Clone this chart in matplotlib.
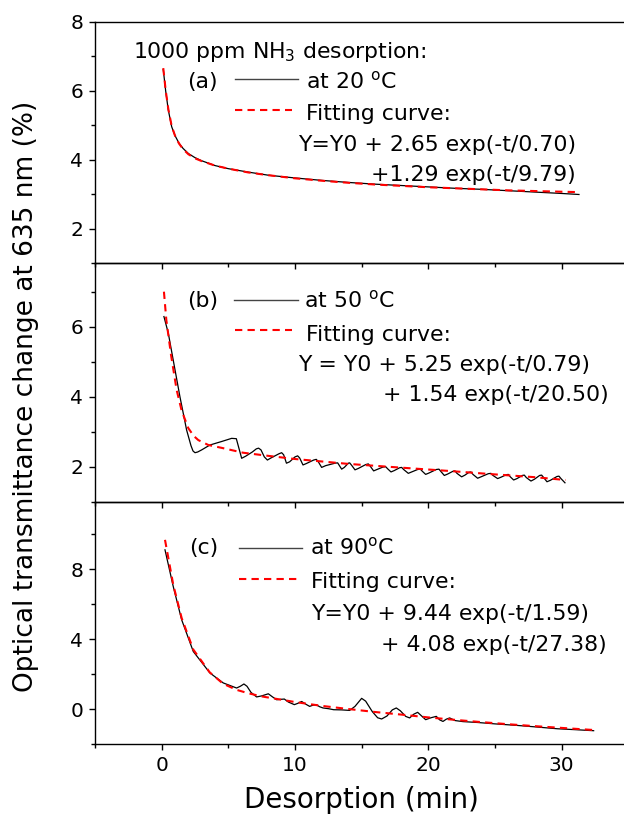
import matplotlib
matplotlib.use("Agg")
import matplotlib.pyplot as plt
from matplotlib.lines import Line2D
from matplotlib.ticker import MultipleLocator

plt.rcParams['font.family'] = ['DejaVu Sans']
plt.rcParams['mathtext.fontset'] = 'dejavusans'

# ---------------- data ----------------
# (a) 20 C
t_a = [0.12, 0.3, 0.5, 0.75, 1.0, 1.3, 1.6, 2.0, 2.5, 3.0, 4.0, 5.0, 6.5, 8.0, 10.0,
       12.0, 14.0, 16.0, 18.0, 20.0, 22.0, 24.0, 26.0, 28.0, 30.0, 31.3]
y_a = [6.62, 6.00, 5.44, 4.96, 4.70, 4.48, 4.33, 4.18, 4.06, 3.97, 3.83, 3.74, 3.64, 3.55, 3.47,
       3.40, 3.34, 3.29, 3.25, 3.21, 3.17, 3.14, 3.10, 3.06, 3.02, 2.99]
tf_a = [0.12, 0.3, 0.5, 0.75, 1.0, 1.3, 1.6, 2.0, 2.5, 3.0, 4.0, 5.0, 6.5, 8.0, 10.0,
        12.0, 14.0, 16.0, 18.0, 20.0, 22.0, 24.0, 26.0, 28.0, 30.0, 31.2]
yf_a = [6.66, 6.02, 5.47, 4.98, 4.70, 4.47, 4.31, 4.16, 4.04, 3.96, 3.83, 3.74, 3.63, 3.55, 3.46,
        3.39, 3.33, 3.28, 3.24, 3.20, 3.17, 3.14, 3.11, 3.09, 3.07, 3.06]

# (b) 50 C
t_b = [0.17, 0.5, 1.0, 1.37, 1.87, 2.2, 2.35, 2.5, 2.7, 3.0, 3.62, 4.5, 5.25, 5.6, 6.0,
       6.3, 6.8, 7.1, 7.27, 7.45, 7.7, 7.93, 8.2, 8.8, 9.0, 9.15, 9.36, 9.6, 10.0, 10.2,
       10.35, 10.6, 10.85, 11.4, 11.6, 11.75, 12.0, 12.3, 13.0, 13.2, 13.3, 13.5, 13.7,
       14.0, 14.1, 14.25, 14.5, 14.75, 15.3, 15.5, 15.65, 15.9, 16.15, 16.6, 16.8, 16.95,
       17.2, 17.45, 17.85, 18.0, 18.15, 18.5, 18.75, 19.2, 19.4, 19.55, 19.8, 20.05, 20.6,
       20.8, 20.95, 21.2, 21.45, 21.85, 22.0, 22.15, 22.5, 22.75, 23.05, 23.2, 23.35, 23.7,
       23.95, 24.5, 24.7, 24.85, 25.2, 25.45, 25.85, 26.0, 26.15, 26.4, 26.65, 27.05, 27.2,
       27.35, 27.7, 27.95, 28.35, 28.5, 28.65, 28.9, 29.15, 29.65, 29.8, 29.95, 30.25]
y_b = [6.29, 5.81, 4.77, 4.00, 3.05, 2.60, 2.45, 2.40, 2.42, 2.48, 2.62, 2.72, 2.81, 2.80, 2.24,
       2.30, 2.42, 2.51, 2.53, 2.48, 2.28, 2.19, 2.25, 2.37, 2.40, 2.34, 2.10, 2.14, 2.28, 2.31,
       2.25, 2.05, 2.09, 2.19, 2.21, 2.14, 1.98, 2.03, 2.10, 2.11, 2.05, 1.93, 1.98,
       2.10, 2.11, 2.04, 1.91, 1.95, 2.06, 2.08, 2.01, 1.88, 1.92, 1.99, 2.00, 1.94,
       1.85, 1.89, 1.97, 1.98, 1.92, 1.81, 1.85, 1.92, 1.93, 1.87, 1.78, 1.82, 1.92,
       1.93, 1.86, 1.75, 1.79, 1.87, 1.88, 1.81, 1.71, 1.76, 1.84, 1.85, 1.78, 1.67,
       1.71, 1.80, 1.81, 1.75, 1.66, 1.70, 1.77, 1.78, 1.71, 1.62, 1.66, 1.75, 1.76,
       1.69, 1.59, 1.64, 1.75, 1.76, 1.69, 1.57, 1.61, 1.72, 1.73, 1.66, 1.54]
tf_b = [0.17, 0.35, 0.7, 1.12, 1.5, 2.0, 2.4, 2.75, 3.5, 4.6, 6.1, 8.0, 10.0, 14.0, 17.7,
        21.5, 25.0, 28.0, 30.3]
yf_b = [7.00, 6.19, 5.20, 4.20, 3.60, 3.10, 2.88, 2.76, 2.62, 2.53, 2.40, 2.31, 2.22, 2.08,
        1.98, 1.88, 1.78, 1.70, 1.62]

# (c) 90 C
t_c = [0.25, 0.87, 1.5, 2.37, 3.62, 4.62, 5.62, 5.9, 6.17, 6.4, 6.7, 7.12, 7.5, 8.0, 8.3,
       8.62, 8.9, 9.2, 9.5, 9.95, 10.2, 10.5, 10.8, 11.1, 11.35, 11.6, 11.85, 12.1, 12.5,
       12.9, 13.5, 14.1, 14.5, 15.0, 15.3, 15.8, 16.2, 16.5, 16.9, 17.3, 17.6, 17.9, 18.3,
       18.6, 18.9, 19.2, 19.5, 19.8, 20.2, 20.6, 20.85, 21.1, 21.35, 21.6, 22.0, 22.6,
       23.7, 25.0, 26.7, 28.0, 29.7, 31.0, 32.4]
y_c = [9.10, 7.00, 5.10, 3.29, 2.06, 1.49, 1.20, 1.30, 1.43, 1.30, 0.95, 0.69, 0.75, 0.87, 0.70,
       0.53, 0.55, 0.57, 0.40, 0.25, 0.32, 0.43, 0.28, 0.15, 0.22, 0.24, 0.13, 0.06, 0.02,
       -0.04, -0.05, -0.08, 0.15, 0.61, 0.45, -0.15, -0.50, -0.57, -0.40, -0.05, 0.06, -0.10, -0.42,
       -0.51, -0.30, -0.19, -0.40, -0.61, -0.50, -0.42, -0.62, -0.71, -0.58, -0.51, -0.66, -0.72,
       -0.77, -0.85, -0.94, -1.02, -1.13, -1.18, -1.24]
tf_c = [0.25, 0.87, 1.5, 2.37, 3.6, 4.6, 5.6, 6.5, 7.5, 8.6, 10.0, 12.0, 14.0, 16.0, 18.0,
        20.0, 22.0, 24.0, 26.0, 28.0, 30.0, 32.4]
yf_c = [9.67, 7.10, 5.20, 3.40, 2.10, 1.45, 1.10, 0.90, 0.72, 0.58, 0.40, 0.18, 0.00, -0.17,
        -0.32, -0.48, -0.62, -0.75, -0.87, -0.98, -1.08, -1.20]

panel_labels = ["(a)", "(b)", "(c)"]
temps = ["at 20 $^\\mathrm{o}$C", "at 50 $^\\mathrm{o}$C", "at 90$^\\mathrm{o}$C"]
eq1 = ["Y=Y0 + 2.65 exp(-t/0.70)", "Y = Y0 + 5.25 exp(-t/0.79)", "Y=Y0 + 9.44 exp(-t/1.59)"]
eq2 = ["+1.29 exp(-t/9.79)", "+ 1.54 exp(-t/20.50)", "+ 4.08 exp(-t/27.38)"]
title_text = "1000 ppm NH$_3$ desorption:"

# ---------------- figure ----------------
W, H = 624, 819
fig = plt.figure(figsize=(W / 100, H / 100), dpi=100)

def box(top, bottom, left=95, right=628.3):
    return [left / W, 1 - bottom / H, (right - left) / W, (bottom - top) / H]

axes = [fig.add_axes(box(22, 263)), fig.add_axes(box(263, 501.7)), fig.add_axes(box(501.7, 744))]
ylims = [(1, 8), (1, 7.82), (-2, 11.85)]
ymaj = [2, 2, 4]
series = [(t_a, y_a, tf_a, yf_a), (t_b, y_b, tf_b, yf_b), (t_c, y_c, tf_c, yf_c)]

for i, ax in enumerate(axes):
    t, y, tf, yf = series[i]
    ax.plot(t, y, color='black', lw=0.9, zorder=3)
    ax.plot(tf, yf, color='#ff0000', lw=1.5, dashes=(3.5, 2.5), zorder=4)
    ax.set_xlim(-5, 35)
    ax.set_ylim(*ylims[i])
    ax.xaxis.set_major_locator(MultipleLocator(10))
    ax.xaxis.set_minor_locator(MultipleLocator(5))
    ax.yaxis.set_major_locator(MultipleLocator(ymaj[i]))
    ax.yaxis.set_minor_locator(MultipleLocator(ymaj[i] / 2))
    ax.tick_params(which='major', direction='out', length=4.5, width=1.0, labelsize=14.5, pad=4)
    ax.tick_params(which='minor', direction='out', length=3.0, width=1.0)
    ax.tick_params(axis='x', which='both', top=False)
    ax.tick_params(axis='y', which='both', right=False)
    for s in ax.spines.values():
        s.set_linewidth(1.0)
    if i < 2:
        ax.tick_params(axis='x', labelbottom=False)
    ax.set_facecolor('none')

axes[2].set_xlabel("Desorption (min)", fontsize=20, labelpad=8)

def ft(xp, yp, s, ha='left', va='baseline', size=15.8, **kw):
    fig.text(xp / W, 1 - yp / H, s, ha=ha, va=va, fontsize=size, **kw)

def fline(x0, x1, yp, **kw):
    fig.add_artist(Line2D([x0 / W, x1 / W], [1 - yp / H, 1 - yp / H], transform=fig.transFigure, **kw))

ft(133, 58.5, title_text)

# per-panel text positions (pixels)
lab_x = [187, 187, 189]
lab_base = [88, 307, 554]
sol = [(235, 298, 79), (234, 298, 300), (239, 302, 548)]
tmp_x = [306, 304, 310]
dsh = [(235, 292, 110), (235, 292, 330), (239, 298, 579)]
fit_pos = [(306, 120), (306, 341), (311, 588)]
eq1_pos = [(298.5, 151), (298, 371), (311, 620)]
eq2_pos = [(576, 181), (609, 401), (607, 651)]

for i in range(3):
    ft(lab_x[i], lab_base[i], panel_labels[i])
    fline(sol[i][0], sol[i][1], sol[i][2], color='#444444', lw=1.0)
    ft(tmp_x[i], lab_base[i], temps[i])
    fline(dsh[i][0], dsh[i][1], dsh[i][2], color='#ff0000', lw=1.5, dashes=(3.5, 2.5))
    ft(fit_pos[i][0], fit_pos[i][1], "Fitting curve:")
    ft(eq1_pos[i][0], eq1_pos[i][1], eq1[i])
    ft(eq2_pos[i][0], eq2_pos[i][1], eq2[i], ha='right')

ft(26, 396, "Optical transmittance change at 635 nm (%)", ha='center', va='center',
   size=19, rotation=90)

fig.savefig("out.png", dpi=100)
